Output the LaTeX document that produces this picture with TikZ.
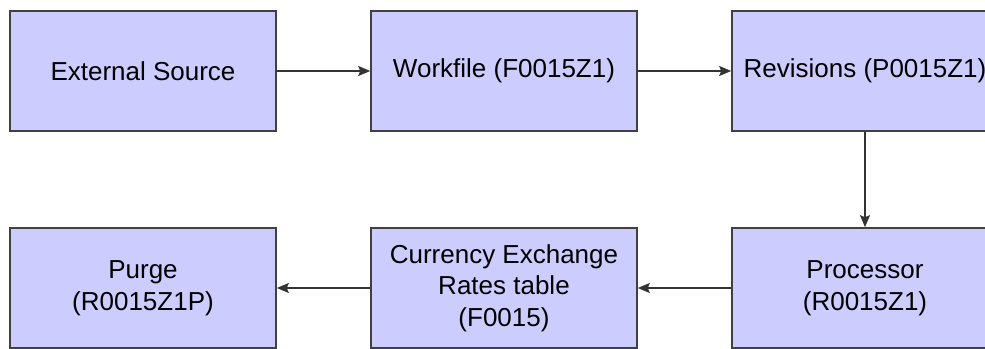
\documentclass[tikz,border=0pt]{standalone}
\usepackage{fontspec}
\setmainfont{Liberation Sans}
\usetikzlibrary{arrows.meta}

\begin{document}
\begin{tikzpicture}[x=1pt, y=1pt,
   box/.style={draw=black!75, line width=1.6pt, fill=lavender, minimum width=266pt,
      minimum height=120pt, inner sep=0pt, align=center,
      font=\fontsize{26}{31.5}\selectfont},
   flow/.style={draw=black!80, line width=1.4pt, -{Stealth[length=12pt,width=10pt,inset=2pt]}}]
   \definecolor{lavender}{HTML}{CCCCFF}
   \useasboundingbox (0,0) rectangle (985,348);

   % top row
   \node[box] (source) at (143,277) {External Source};
   \node[box] (workfile) at (504,277) {Workfile (F0015Z1)};
   \node[box] (revisions) at (865,277) {Revisions (P0015Z1)};

   % bottom row
   \node[box] (processor) at (865,60) {Processor\\(R0015Z1)};
   \node[box] (rates) at (504,60) {Currency Exchange\\Rates table\\(F0015)};
   \node[box] (purge) at (143,60) {Purge\\(R0015Z1P)};

   \draw[flow] (source) -- (workfile);
   \draw[flow] (workfile) -- (revisions);
   \draw[flow] (revisions) -- (processor);
   \draw[flow] (processor) -- (rates);
   \draw[flow] (rates) -- (purge);
\end{tikzpicture}
\end{document}
